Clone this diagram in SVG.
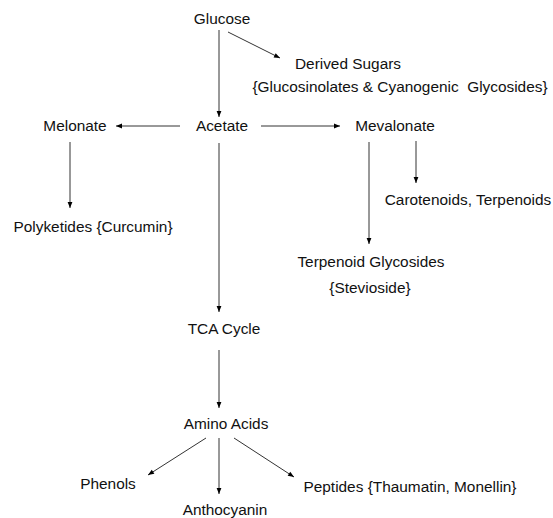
<svg xmlns="http://www.w3.org/2000/svg" width="553" height="518" viewBox="0 0 553 518">
<defs>
<marker id="ah" viewBox="0 0 10 10" refX="10" refY="5" markerWidth="7" markerHeight="6" markerUnits="userSpaceOnUse" orient="auto">
<path d="M0,1 L10,5 L0,9 z" fill="#000"/>
</marker>
<style>
text{font-family:"Liberation Sans",Arial,sans-serif;font-size:15.4px;fill:#111;text-anchor:middle}
.c line{stroke:#333;stroke-width:1;marker-end:url(#ah)}
</style>
</defs>
<rect width="553" height="518" fill="#fff"/>
<g class="c" id="connectors">
<line x1="219" y1="30" x2="219" y2="117"/>
<line x1="228" y1="32" x2="280" y2="58"/>
<line x1="180" y1="126" x2="116" y2="126"/>
<line x1="261" y1="126" x2="340" y2="126"/>
<line x1="70" y1="142" x2="70" y2="208"/>
<line x1="219" y1="143" x2="219" y2="312"/>
<line x1="369" y1="142" x2="369" y2="244"/>
<line x1="416" y1="141" x2="416" y2="183"/>
<line x1="219" y1="350" x2="219" y2="408"/>
<line x1="206" y1="438" x2="148" y2="475"/>
<line x1="219" y1="438" x2="219" y2="494"/>
<line x1="234" y1="438" x2="294" y2="477"/>
</g>
<g id="glucose"><text x="222" y="24">Glucose</text></g>
<g id="derived"><text x="348" y="69">Derived Sugars</text><text x="400" y="92" xml:space="preserve">{Glucosinolates &amp; Cyanogenic  Glycosides}</text></g>
<g id="melonate"><text x="75" y="131">Melonate</text></g>
<g id="acetate"><text x="222" y="131">Acetate</text></g>
<g id="mevalonate"><text x="395" y="131">Mevalonate</text></g>
<g id="polyketides"><text x="93" y="232">Polyketides {Curcumin}</text></g>
<g id="carotenoids"><text x="468" y="205">Carotenoids, Terpenoids</text></g>
<g id="terpenoid"><text x="371" y="267">Terpenoid Glycosides</text><text x="370" y="293">{Stevioside}</text></g>
<g id="tca"><text x="224" y="334">TCA Cycle</text></g>
<g id="amino"><text x="226" y="429">Amino Acids</text></g>
<g id="phenols"><text x="108" y="489">Phenols</text></g>
<g id="anthocyanin"><text x="225" y="515">Anthocyanin</text></g>
<g id="peptides"><text x="410" y="492">Peptides {Thaumatin, Monellin}</text></g>
</svg>
